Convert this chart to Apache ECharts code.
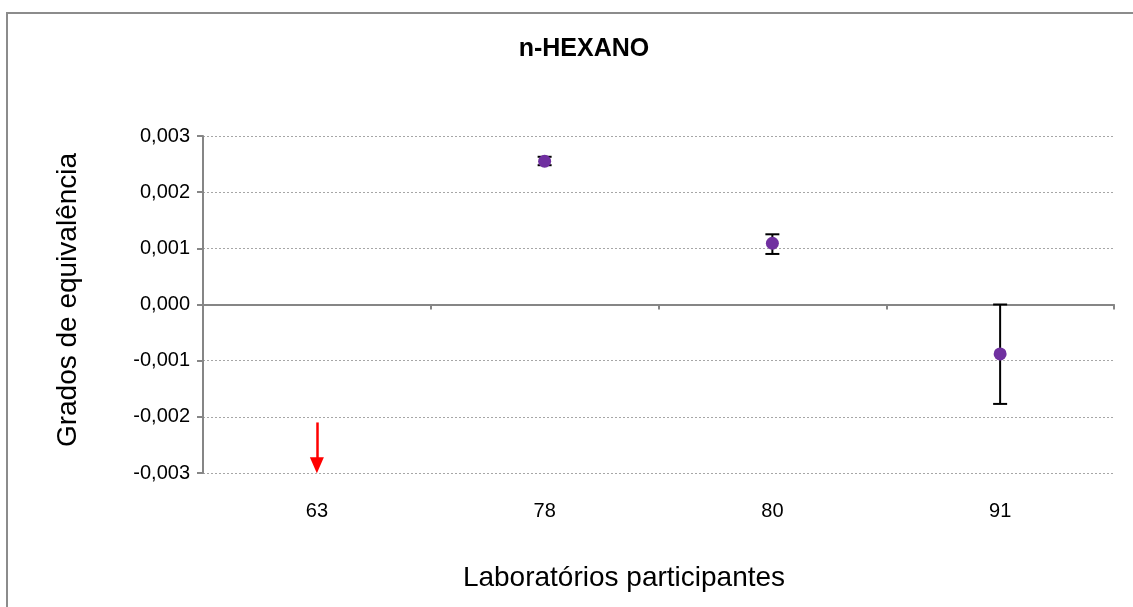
<!DOCTYPE html>
<html>
<head>
<meta charset="utf-8">
<script src="https://cdn.jsdelivr.net/npm/echarts@6/dist/echarts.min.js"></script>
<style>
  html, body { margin: 0; padding: 0; background: #fff; }
  #chart { width: 1133px; height: 607px; }
</style>
</head>
<body>
<div id="chart"></div>
<script>
// datos
const labs = ['63', '78', '80', '91'];
const grados = ['-', 0.00255, 0.00109, -0.00088];
const errLow = [null, 0.00248, 0.00090, -0.00177];
const errHigh = [null, 0.00263, 0.00125, 0.00000];
// lab 63 fuera de escala -> flecha (punta sobre -0,003)
const arrowLab = '63';
const arrowFrom = -0.0021;
const arrowTo = -0.00286;

const font = 'Liberation Sans, Arial, sans-serif';

function fmt(v) {
  return v.toFixed(3).replace('.', ',');
}

var myChart = echarts.init(document.getElementById('chart'), null, { renderer: 'canvas' });

let errData = [];
labs.forEach((l, i) => {
  if (errLow[i] != null) errData.push([i, errLow[i], errHigh[i]]);
});

var option = {
  backgroundColor: '#fff',
  animation: false,
  graphic: [
    {
      type: 'rect', x: 7, y: 13, z: -10,
      shape: { x: 0, y: 0, width: 1300, height: 800 },
      style: { fill: 'none', stroke: '#8c8c8c', lineWidth: 2 }
    },
    {
      type: 'text', x: 584, y: 49,
      style: { text: 'n-HEXANO', font: 'bold 25px ' + font, fill: '#000', align: 'center', verticalAlign: 'middle' }
    },
    {
      type: 'text', x: 624, y: 578,
      style: { text: 'Laboratórios participantes', font: '28px ' + font, fill: '#000', align: 'center', verticalAlign: 'middle' }
    },
    {
      type: 'text', x: 68, y: 300, rotation: Math.PI / 2,
      style: { text: 'Grados de equivalência', font: '28px ' + font, fill: '#000', align: 'center', verticalAlign: 'middle' }
    }
  ],
  grid: { left: 203, top: 136, right: 19, bottom: 134, containLabel: false },
  xAxis: [
    {
      type: 'category',
      data: labs,
      axisLine: { onZero: true, lineStyle: { color: '#868686', width: 2 } },
      axisTick: { show: true, length: 5, lineStyle: { color: '#868686', width: 2 } },
      axisLabel: { show: false },
      splitLine: { show: false }
    },
    {
      type: 'category',
      data: labs,
      position: 'bottom',
      axisLine: { show: false, onZero: false },
      axisTick: { show: false },
      axisLabel: { margin: 28, fontSize: 20, fontFamily: font, color: '#000' },
      splitLine: { show: false }
    }
  ],
  yAxis: {
    type: 'value',
    min: -0.003,
    max: 0.003,
    interval: 0.001,
    axisLine: { show: true, lineStyle: { color: '#868686', width: 2 } },
    axisTick: { show: true, length: 6, lineStyle: { color: '#868686', width: 2 } },
    axisLabel: { formatter: fmt, fontSize: 20, fontFamily: font, color: '#000', margin: 13 },
    splitLine: { show: true, lineStyle: { color: '#a6a6a6', type: [2, 2], width: 1 } }
  },
  series: [
    {
      name: 'err',
      type: 'custom',
      z: 2,
      data: errData,
      renderItem: function (params, api) {
        let x = api.value(0);
        let lo = api.coord([x, api.value(1)]);
        let hi = api.coord([x, api.value(2)]);
        let w = 7;
        let st = { stroke: '#000', lineWidth: 2 };
        return {
          type: 'group',
          children: [
            { type: 'line', shape: { x1: lo[0], y1: lo[1], x2: hi[0], y2: hi[1] }, style: st },
            { type: 'line', shape: { x1: lo[0] - w, y1: lo[1], x2: lo[0] + w, y2: lo[1] }, style: st },
            { type: 'line', shape: { x1: hi[0] - w, y1: hi[1], x2: hi[0] + w, y2: hi[1] }, style: st }
          ]
        };
      }
    },
    {
      name: 'Grados',
      type: 'scatter',
      z: 3,
      data: grados,
      symbol: 'circle',
      symbolSize: 13,
      itemStyle: { color: '#7030A0', opacity: 1 },
      markLine: {
        silent: true,
        symbol: ['none', 'triangle'],
        symbolSize: [14, 16],
        label: { show: false },
        lineStyle: { color: '#ff0000', width: 2.5, type: 'solid' },
        data: [[{ coord: [arrowLab, arrowFrom] }, { coord: [arrowLab, arrowTo] }]]
      }
    }
  ]
};
myChart.setOption(option);
</script>
</body>
</html>
